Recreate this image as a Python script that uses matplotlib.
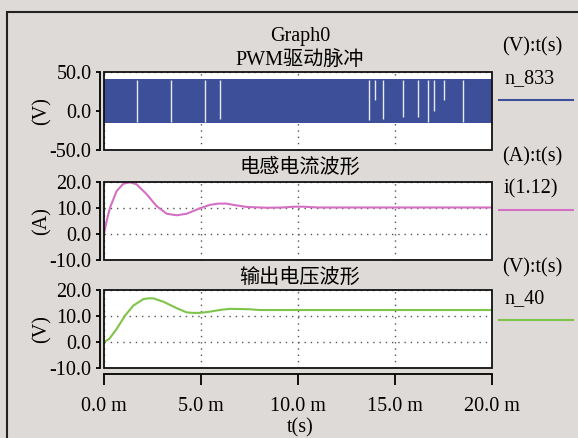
import matplotlib
matplotlib.use("Agg")
import matplotlib.pyplot as plt
from matplotlib.patches import Rectangle
from matplotlib.lines import Line2D
import numpy as np

plt.rcParams['font.family'] = ['Liberation Serif', 'Noto Sans CJK SC', 'DejaVu Sans']

# ---------------- data ----------------
main_title = "Graph0"
panel_titles = ["PWM驱动脉冲", "电感电流波形", "输出电压波形"]
unit_labels = ["(V):t(s)", "(A):t(s)", "(V):t(s)"]
trace_names = ["n_833", "i(1.12)", "n_40"]
ylabels = ["(V)", "(A)", "(V)"]

x_ticks = [0, 5, 10, 15, 20]
x_ticklabels = ["0.0 m", "5.0 m", "10.0 m", "15.0 m", "20.0 m"]
y1_ticks = [-50, 0, 50]
y1_ticklabels = ["-50.0", "0.0", "50.0"]
y23_ticks = [-10, 0, 10, 20]
y23_ticklabels = ["-10.0", "0.0", "10.0", "20.0"]

# PWM band (V) and white gaps (ms)
pwm_high = 40.8
pwm_low = -15.5
gap_t = [1.71, 3.47, 5.22, 6.0, 13.64, 13.98, 14.4, 15.39, 16.17, 16.72, 17.02, 17.52, 18.48]
gap_bottom = [-13.6, -13.6, -13.6, -10.7, -11.0, 13.6, -10.7, -7.3, -7.3, -13.6, -0.2, 14.4, -13.6]

# inductor current (A)
t_i = [0, 0.15, 0.31, 0.65, 0.99, 1.34, 1.68, 2.2, 2.7, 3.23, 3.75, 4.26, 4.95,
       5.46, 5.9, 6.3, 6.67, 7.35, 8.4, 9.2, 9.8, 10.3, 11.0, 12, 14, 16, 18, 20]
i_val = [0, 5.5, 10.1, 16.5, 19.3, 19.9, 19.1, 15.3, 10.8, 7.8, 7.2, 7.8, 9.9,
         11.2, 11.7, 11.7, 11.2, 10.4, 10.1, 10.2, 10.5, 10.5, 10.2, 10.2, 10.2, 10.2, 10.2, 10.2]

# output voltage (V)
t_v = [0, 0.27, 0.65, 1.08, 1.51, 2.03, 2.3, 2.54, 3.06, 3.75, 4.26, 4.6, 4.95,
       5.4, 6.04, 6.5, 7.5, 8.0, 10, 12, 14, 16, 18, 20]
v_val = [0, 1.2, 5.0, 10.1, 14.0, 16.5, 16.8, 16.8, 15.5, 13.0, 11.4, 11.2, 11.2,
         11.6, 12.4, 12.75, 12.6, 12.3, 12.3, 12.3, 12.3, 12.3, 12.3, 12.3]

c_blue = "#3d4f98"
c_pink = "#d46fc4"
c_green = "#7ec44a"
bg = "#dedad7"

W, H = 578, 438
FS = 14.5

fig = plt.figure(figsize=(W / 100, H / 100), dpi=100, facecolor=bg)

def fx(x):
    return x / W

def fy(y):
    return 1 - y / H

# outer frame
fig.add_artist(Rectangle((fx(7), -0.5), 2, fy(12) + 0.5, transform=fig.transFigure,
                         fill=False, ec="#222222", lw=1.5))

left_px, right_px = 104, 492
panels_px = [(72, 150), (182, 260), (290, 368)]
axes = []
for top, bot in panels_px:
    ax = fig.add_axes([fx(left_px), fy(bot), (right_px - left_px) / W, (bot - top) / H])
    ax.set_facecolor("white")
    ax.set_xlim(0, 20)
    axes.append(ax)

for k, ax in enumerate(axes):
    for s in ["top", "right", "bottom"]:
        ax.spines[s].set_visible(False)
    ax.spines["left"].set_position(("outward", 3))
    ax.spines["left"].set_linewidth(1.3)
    ax.add_patch(Rectangle((0, 0), 1, 1, transform=ax.transAxes, fill=False,
                           ec="#111111", lw=1.3, clip_on=False, zorder=6))
    ax.set_xticks(x_ticks)
    ax.tick_params(axis="y", direction="out", length=3, width=1.3, pad=3, labelsize=FS)
    ax.grid(True, linestyle=(0, (1, 3.5)), color="#555555", lw=1.0)
    ax.set_axisbelow(True)
    if k < 2:
        ax.tick_params(axis="x", length=0, labelbottom=False)

# panel 1 : PWM
ax1 = axes[0]
ax1.set_ylim(-50, 50)
ax1.set_yticks(y1_ticks)
ax1.set_yticklabels(y1_ticklabels)
ax1.fill_between([0, 20], [pwm_low, pwm_low], [pwm_high, pwm_high], color=c_blue, lw=0, zorder=3)
ax1.vlines(gap_t, gap_bottom, [pwm_high - 1.5] * len(gap_t), color="#e8eaf2", lw=1.0, zorder=4)

# panel 2 : current
ax2 = axes[1]
ax2.set_ylim(-10, 20)
ax2.set_yticks(y23_ticks)
ax2.set_yticklabels(y23_ticklabels)
ax2.plot(t_i, i_val, color=c_pink, lw=1.5, zorder=4)

# panel 3 : voltage
ax3 = axes[2]
ax3.set_ylim(-10, 20)
ax3.set_yticks(y23_ticks)
ax3.set_yticklabels(y23_ticklabels)
ax3.plot(t_v, v_val, color=c_green, lw=1.5, zorder=4)
ax3.spines["bottom"].set_visible(True)
ax3.spines["bottom"].set_position(("outward", 4))
ax3.spines["bottom"].set_linewidth(1.3)
ax3.tick_params(axis="x", direction="out", length=8, width=1.3, pad=9, labelsize=FS)
ax3.set_xticklabels(x_ticklabels)

# titles
fig.text(fx(300), fy(37), main_title, ha="center", va="center", fontsize=FS)
for title, y in zip(panel_titles, [60, 168, 278]):
    fig.text(fx(300), fy(y), title, ha="center", va="center", fontsize=FS)

# y labels
for lab, (top, bot) in zip(ylabels, panels_px):
    fig.text(fx(42), fy((top + bot) / 2), lab, rotation=90, ha="center", va="center", fontsize=FS)

# x label
fig.text(fx(300), fy(437.5), "t(s)", ha="center", va="bottom", fontsize=FS)

# right-side legend blocks
legend_units_y = [47, 157, 268]
legend_names_y = [79, 189, 299]
legend_lines_y = [100, 210, 320]
colors = [c_blue, c_pink, c_green]
for u, n, yu, yn, yl, c in zip(unit_labels, trace_names, legend_units_y, legend_names_y,
                              legend_lines_y, colors):
    fig.text(fx(502), fy(yu), u, ha="left", va="center", fontsize=FS)
    fig.text(fx(504), fy(yn), n, ha="left", va="center", fontsize=FS)
    fig.add_artist(Line2D([fx(499), fx(573)], [fy(yl), fy(yl)], transform=fig.transFigure,
                          color=c, lw=1.5))

fig.savefig("out.png", dpi=100, facecolor=bg)
